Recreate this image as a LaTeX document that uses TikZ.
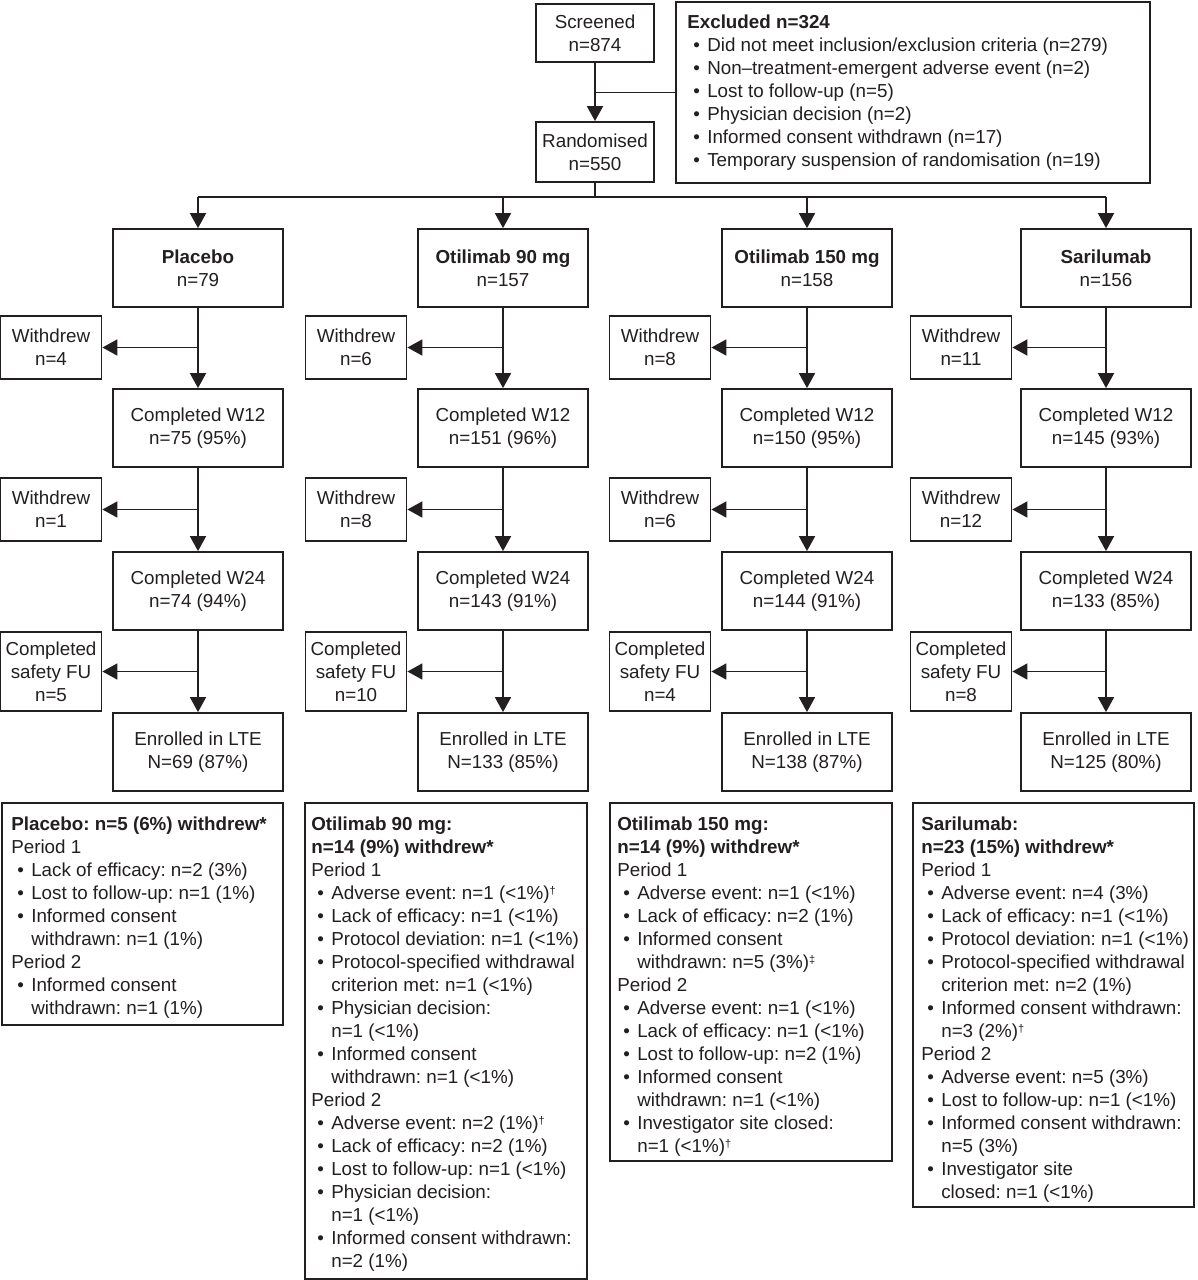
\documentclass[tikz,border=0pt]{standalone}
\usepackage{fontspec}
\setmainfont{Liberation Sans}
\usetikzlibrary{arrows.meta}
\definecolor{ink}{RGB}{35,31,32}
\newcommand{\fsz}{\fontsize{18.8}{23}\selectfont\frenchspacing}
\newcommand{\bl}{\hspace*{6pt}\makebox[14pt][l]{•}}
\newcommand{\cl}{\hspace*{20pt}}
\newcommand{\dg}{\raisebox{5pt}{\fontsize{11}{11}\selectfont †}}
\newcommand{\ddg}{\raisebox{5pt}{\fontsize{11}{11}\selectfont ‡}}
\begin{document}
\frenchspacing
\begin{tikzpicture}[x=1pt,y=-1pt,
  every node/.style={text=ink,font=\fsz},
  box/.style={draw=ink,line width=1.8pt,align=center,inner sep=0pt},
  armbox/.style={box,minimum width=170pt,minimum height=78pt},
  sidebox/.style={box,minimum width=101pt,minimum height=63pt},
  fubox/.style={box,minimum width=101pt,minimum height=79pt},
  txt/.style={anchor=north west,align=left,inner sep=0pt},
  ln/.style={draw=ink,line width=1.8pt},
  arr/.style={ln,-{Triangle[width=16pt,length=15pt]}}]
\fill[white] (0,0) rectangle (1197,1280);
\useasboundingbox (0,0) rectangle (1197,1280);

% top
\node[box,minimum width=118pt,minimum height=58pt] (scr) at (595,33) {Screened\\n=874};
\node[box,minimum width=118pt,minimum height=60pt] (rnd) at (595,152) {Randomised\\n=550};
\node[box,minimum width=474pt,minimum height=181pt] (exc) at (913,92.5) {};
\node[txt] (exct) at ([shift={(12,14)}]exc.north west) {\textbf{Excluded n=324}\\
\bl Did not meet inclusion/exclusion criteria (n=279)\\
\bl Non–treatment-emergent adverse event (n=2)\\
\bl Lost to follow-up (n=5)\\
\bl Physician decision (n=2)\\
\bl Informed consent withdrawn (n=17)\\
\bl Temporary suspension of randomisation (n=19)};
\coordinate (br) at (595,197);

% arms
\node[armbox] (a1) at (198,268) {\textbf{Placebo}\\n=79};
\node[armbox] (a2) at (503,268) {\textbf{Otilimab 90 mg}\\n=157};
\node[armbox] (a3) at (807,268) {\textbf{Otilimab 150 mg}\\n=158};
\node[armbox] (a4) at (1106,268) {\textbf{Sarilumab}\\n=156};

\node[sidebox] (wa1) at (51,347.5) {Withdrew\\n=4};
\node[sidebox] (wa2) at (356,347.5) {Withdrew\\n=6};
\node[sidebox] (wa3) at (660,347.5) {Withdrew\\n=8};
\node[sidebox] (wa4) at (961,347.5) {Withdrew\\n=11};

\node[armbox] (c1) at (198,428) {Completed W12\\n=75 (95\%)};
\node[armbox] (c2) at (503,428) {Completed W12\\n=151 (96\%)};
\node[armbox] (c3) at (807,428) {Completed W12\\n=150 (95\%)};
\node[armbox] (c4) at (1106,428) {Completed W12\\n=145 (93\%)};

\node[sidebox] (wb1) at (51,509.5) {Withdrew\\n=1};
\node[sidebox] (wb2) at (356,509.5) {Withdrew\\n=8};
\node[sidebox] (wb3) at (660,509.5) {Withdrew\\n=6};
\node[sidebox] (wb4) at (961,509.5) {Withdrew\\n=12};

\node[armbox] (d1) at (198,591) {Completed W24\\n=74 (94\%)};
\node[armbox] (d2) at (503,591) {Completed W24\\n=143 (91\%)};
\node[armbox] (d3) at (807,591) {Completed W24\\n=144 (91\%)};
\node[armbox] (d4) at (1106,591) {Completed W24\\n=133 (85\%)};

\node[fubox] (f1) at (51,671.5) {Completed\\safety FU\\n=5};
\node[fubox] (f2) at (356,671.5) {Completed\\safety FU\\n=10};
\node[fubox] (f3) at (660,671.5) {Completed\\safety FU\\n=4};
\node[fubox] (f4) at (961,671.5) {Completed\\safety FU\\n=8};

\node[armbox] (e1) at (198,752) {Enrolled in LTE\\N=69 (87\%)};
\node[armbox] (e2) at (503,752) {Enrolled in LTE\\N=133 (85\%)};
\node[armbox] (e3) at (807,752) {Enrolled in LTE\\N=138 (87\%)};
\node[armbox] (e4) at (1106,752) {Enrolled in LTE\\N=125 (80\%)};

% connectors top
\draw[arr] (scr.south) -- (rnd.north);
\draw[ln] (exc.west) -- (exc.west -| scr.south);
\draw[ln] (rnd.south) -- (br);
\draw[ln] (a1.north |- br) -- (a4.north |- br);
\foreach \k in {1,2,3,4}{
  \draw[arr] (a\k.north |- br) -- (a\k.north);
  \draw[arr] (a\k.south) -- (c\k.north);
  \draw[arr] (wa\k.east -| a\k.south) -- (wa\k.east);
  \draw[arr] (c\k.south) -- (d\k.north);
  \draw[arr] (wb\k.east -| c\k.south) -- (wb\k.east);
  \draw[arr] (d\k.south) -- (e\k.north);
  \draw[arr] (f\k.east -| d\k.south) -- (f\k.east);
}

% bottom boxes
\node[box,minimum width=281pt,minimum height=222pt] (b1) at (142.5,914) {};
\node[txt] (b1t) at ([shift={(10,15)}]b1.north west) {\textbf{Placebo: n=5 (6\%) withdrew*}\\
Period 1\\
\bl Lack of efficacy: n=2 (3\%)\\
\bl Lost to follow-up: n=1 (1\%)\\
\bl Informed consent\\
\cl withdrawn: n=1 (1\%)\\
Period 2\\
\bl Informed consent\\
\cl withdrawn: n=1 (1\%)};

\node[box,minimum width=282pt,minimum height=476pt] (b2) at (446,1041) {};
\node[txt] (b2t) at ([shift={(7,15)}]b2.north west) {\textbf{Otilimab 90 mg:}\\
\textbf{n=14 (9\%) withdrew*}\\
Period 1\\
\bl Adverse event: n=1 (<1\%)\dg\\
\bl Lack of efficacy: n=1 (<1\%)\\
\bl Protocol deviation: n=1 (<1\%)\\
\bl Protocol-specified withdrawal\\
\cl criterion met: n=1 (<1\%)\\
\bl Physician decision:\\
\cl n=1 (<1\%)\\
\bl Informed consent\\
\cl withdrawn: n=1 (<1\%)\\
Period 2\\
\bl Adverse event: n=2 (1\%)\dg\\
\bl Lack of efficacy: n=2 (1\%)\\
\bl Lost to follow-up: n=1 (<1\%)\\
\bl Physician decision:\\
\cl n=1 (<1\%)\\
\bl Informed consent withdrawn:\\
\cl n=2 (1\%)};

\node[box,minimum width=282pt,minimum height=358pt] (b3) at (751,982) {};
\node[txt] (b3t) at ([shift={(8,15)}]b3.north west) {\textbf{Otilimab 150 mg:}\\
\textbf{n=14 (9\%) withdrew*}\\
Period 1\\
\bl Adverse event: n=1 (<1\%)\\
\bl Lack of efficacy: n=2 (1\%)\\
\bl Informed consent\\
\cl withdrawn: n=5 (3\%)\ddg\\
Period 2\\
\bl Adverse event: n=1 (<1\%)\\
\bl Lack of efficacy: n=1 (<1\%)\\
\bl Lost to follow-up: n=2 (1\%)\\
\bl Informed consent\\
\cl withdrawn: n=1 (<1\%)\\
\bl Investigator site closed:\\
\cl n=1 (<1\%)\dg};

\node[box,minimum width=281pt,minimum height=404pt] (b4) at (1053.5,1005) {};
\node[txt] (b4t) at ([shift={(9,15)}]b4.north west) {\textbf{Sarilumab:}\\
\textbf{n=23 (15\%) withdrew*}\\
Period 1\\
\bl Adverse event: n=4 (3\%)\\
\bl Lack of efficacy: n=1 (<1\%)\\
\bl Protocol deviation: n=1 (<1\%)\\
\bl Protocol-specified withdrawal\\
\cl criterion met: n=2 (1\%)\\
\bl Informed consent withdrawn:\\
\cl n=3 (2\%)\dg\\
Period 2\\
\bl Adverse event: n=5 (3\%)\\
\bl Lost to follow-up: n=1 (<1\%)\\
\bl Informed consent withdrawn:\\
\cl n=5 (3\%)\\
\bl Investigator site\\
\cl closed: n=1 (<1\%)};
\end{tikzpicture}
\end{document}
